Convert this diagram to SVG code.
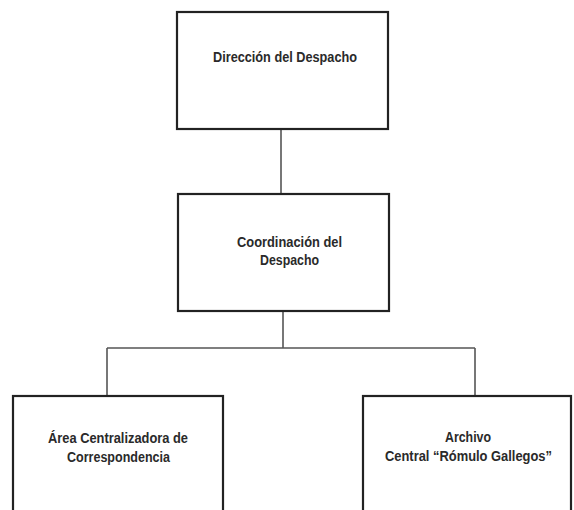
<svg xmlns="http://www.w3.org/2000/svg" width="574" height="510" viewBox="0 0 574 510">
<style>
.box{fill:#fff;stroke:#222;stroke-width:2.2}
.conn{fill:none;stroke:#555;stroke-width:1.6}
.lbl{font-family:"Liberation Sans","DejaVu Sans",sans-serif;font-size:14.5px;font-weight:bold;fill:#2a2a2a;text-anchor:middle}
</style>
<rect width="574" height="510" fill="#fff"/>
<g id="connectors">
<path class="conn" d="M281,129 V194"/>
<path class="conn" d="M283,311 V348"/>
<path class="conn" d="M107,348 H475"/>
<path class="conn" d="M107,348 V396"/>
<path class="conn" d="M475,348 V396"/>
</g>
<g id="direccion">
<rect class="box" x="177" y="12" width="211" height="117"/>
<text class="lbl" x="285" y="62" textLength="144" lengthAdjust="spacingAndGlyphs">Dirección del Despacho</text>
</g>
<g id="coordinacion">
<rect class="box" x="178" y="194" width="211" height="117"/>
<text class="lbl" x="289.5" y="247" textLength="105" lengthAdjust="spacingAndGlyphs">Coordinación del</text>
<text class="lbl" x="289.5" y="265" textLength="59" lengthAdjust="spacingAndGlyphs">Despacho</text>
</g>
<g id="area">
<rect class="box" x="13" y="396" width="210" height="130"/>
<text class="lbl" x="118" y="443" textLength="140" lengthAdjust="spacingAndGlyphs">Área Centralizadora de</text>
<text class="lbl" x="118.5" y="462" textLength="103" lengthAdjust="spacingAndGlyphs">Correspondencia</text>
</g>
<g id="archivo">
<rect class="box" x="363" y="396" width="208" height="130"/>
<text class="lbl" x="468" y="442" textLength="46" lengthAdjust="spacingAndGlyphs">Archivo</text>
<text class="lbl" x="468.5" y="461" textLength="167" lengthAdjust="spacingAndGlyphs">Central “Rómulo Gallegos”</text>
</g>
</svg>
